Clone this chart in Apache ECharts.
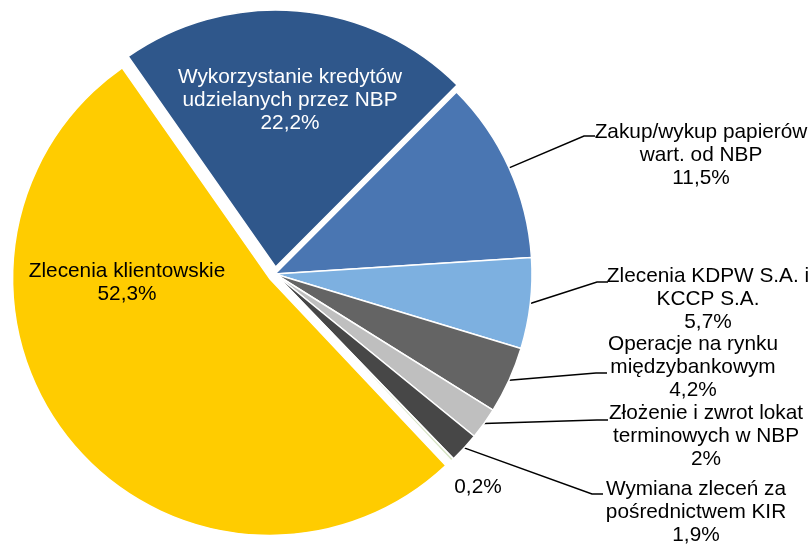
<!DOCTYPE html>
<html>
<head>
<meta charset="utf-8">
<script src="https://cdn.jsdelivr.net/npm/echarts@6/dist/echarts.min.js"></script>
<style>
  html, body { margin: 0; padding: 0; background: #fff; }
  #chart { width: 810px; height: 545px; }
</style>
</head>
<body>
<div id="chart"></div>
<script>
// dane
const sliceNames = [
  "Wykorzystanie kredytów\nudzielanych przez NBP",
  "Zakup/wykup papierów\nwart. od NBP",
  "Zlecenia KDPW S.A. i\nKCCP S.A.",
  "Operacje na rynku\nmiędzybankowym",
  "Złożenie i zwrot lokat\nterminowych w NBP",
  "Wymiana zleceń za\npośrednictwem KIR",
  "",
  "Zlecenia klientowskie",
];
const sliceValues = [22.2, 11.5, 5.7, 4.2, 2, 1.9, 0.2, 52.3];
const sliceColors = ["#2F578B", "#4A76B2", "#7DB0E0", "#646464", "#BFBFBF", "#474747", "#D7E4C5", "#FFCC00"];
const labelColors = ["#fff", "#000", "#000", "#000", "#000", "#000", "#000", "#000"];
const explodedSlices = [0, 7];

// label placement: [centre x, top y, line end x, line end y]
const labelSpots = [
  [290, 66, null, null],
  [701, 121, 595, 136],
  [708, 265, 608, 282],
  [693, 333, 607, 373],
  [706, 402, 608, 420],
  [696, 478, 603, 494],
  [478, 476, null, null],
  [127, 260, null, null],
];

const cx = 275, cy = 274, pieRadius = 257, startAngle = 125, explodeDist = 7;

const chart = echarts.init(document.getElementById("chart"));

const fmtValue = (v) => String(v).replace(".", ",") + "%";
const total = sliceValues.reduce((a, b) => a + b, 0);

// kąt środka wycinka (stopnie, jak w ECharts)
function midAngle(i) {
  let before = 0;
  for (let k = 0; k < i; k++) before += sliceValues[k];
  return startAngle - ((before + sliceValues[i] / 2) / total) * 360;
}

function pieSeries(visible, center) {
  return {
    type: "pie",
    center: center,
    radius: [0, pieRadius],
    startAngle: startAngle,
    clockwise: true,
    silent: true,
    avoidLabelOverlap: false,
    emphasis: { disabled: true },
    itemStyle: { borderColor: "#fff", borderWidth: 1.5 },
    label: {
      show: true,
      position: "outside",
      fontFamily: "Liberation Sans, Arial, sans-serif",
      fontSize: 20.8,
      lineHeight: 23,
      formatter: (p) => (p.name ? p.name + "\n" + fmtValue(p.value) : fmtValue(p.value)),
    },
    labelLine: { show: true, lineStyle: { color: "#000", width: 1.5 } },
    labelLayout: (params) => {
      const s = labelSpots[params.dataIndex];
      const out = { x: s[0], y: s[1], align: "center", verticalAlign: "top" };
      if (s[2] != null && params.labelLinePoints) {
        const p0 = params.labelLinePoints[0];
        out.labelLinePoints = [p0, [s[2] - 11, s[3]], [s[2], s[3]]];
      }
      return out;
    },
    data: sliceValues.map((v, i) => {
      const on = visible.includes(i);
      return {
        name: sliceNames[i],
        value: v,
        itemStyle: on ? { color: sliceColors[i] } : { color: "rgba(0,0,0,0)", borderWidth: 0 },
        label: { show: on, color: labelColors[i] },
        labelLine: { show: on && labelSpots[i][2] != null },
      };
    }),
  };
}

const mainSlices = sliceValues.map((v, i) => i).filter((i) => !explodedSlices.includes(i));
const series = [pieSeries(mainSlices, [cx, cy])];
explodedSlices.forEach((i) => {
  const a = (midAngle(i) * Math.PI) / 180;
  series.push(pieSeries([i], [cx + explodeDist * Math.cos(a), cy - explodeDist * Math.sin(a)]));
});

chart.setOption({ animation: false, series: series });
</script>
</body>
</html>
